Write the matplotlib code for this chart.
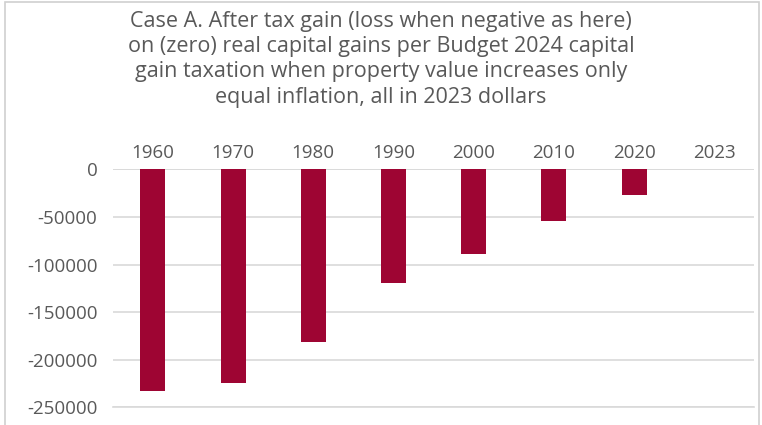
import matplotlib.pyplot as plt
from matplotlib.patches import Rectangle

years = ["1960", "1970", "1980", "1990", "2000", "2010", "2020", "2023"]
after_tax_gain = [-232500, -224500, -181700, -119700, -89000, -54300, -27000, 0]
y_ticks = [0, -50000, -100000, -150000, -200000, -250000]

bar_color = "#9E0533"
text_color = "#595959"
grid_color = "#D9D9D9"

plt.rcParams["font.family"] = ["Open Sans", "DejaVu Sans"]

fig = plt.figure(figsize=(7.62, 4.25), dpi=100)
ax = fig.add_axes([0.148, 0.0416, 0.842, 0.56])

x = range(len(years))
ax.bar(x, after_tax_gain, width=0.31, color=bar_color, zorder=3)

ax.set_xlim(-0.5, len(years) - 0.5)
ax.set_ylim(-250000, 0)
ax.set_yticks(y_ticks)
ax.set_yticklabels([str(v) for v in y_ticks])
ax.xaxis.tick_top()
ax.set_xticks(list(x))
ax.set_xticklabels(years)
ax.tick_params(axis="both", length=0, labelsize=13.5, labelcolor=text_color)
ax.tick_params(axis="x", pad=5)
ax.tick_params(axis="y", pad=11)

ax.yaxis.grid(True, color=grid_color, linewidth=1.2, zorder=0)
ax.set_axisbelow(True)
for s in ax.spines.values():
    s.set_visible(False)
ax.axhline(0, color=grid_color, linewidth=1.2, zorder=1)
ax.axhline(-250000, color=grid_color, linewidth=1.2, zorder=1, clip_on=False)

fig.text(0.5, 0.975,
         "Case A. After tax gain (loss when negative as here)\n"
         "on (zero) real capital gains per Budget 2024 capital\n"
         "gain taxation when property value increases only\n"
         "equal inflation, all in 2023 dollars",
         ha="center", va="top", fontsize=15.5, color=text_color, linespacing=1.27)

# chart border
fig.patches.append(Rectangle((0.006, -0.05), 0.99, 1.045, transform=fig.transFigure,
                             fill=False, edgecolor="#D0D0D0", linewidth=1.2))

fig.savefig("out.png", dpi=100)
